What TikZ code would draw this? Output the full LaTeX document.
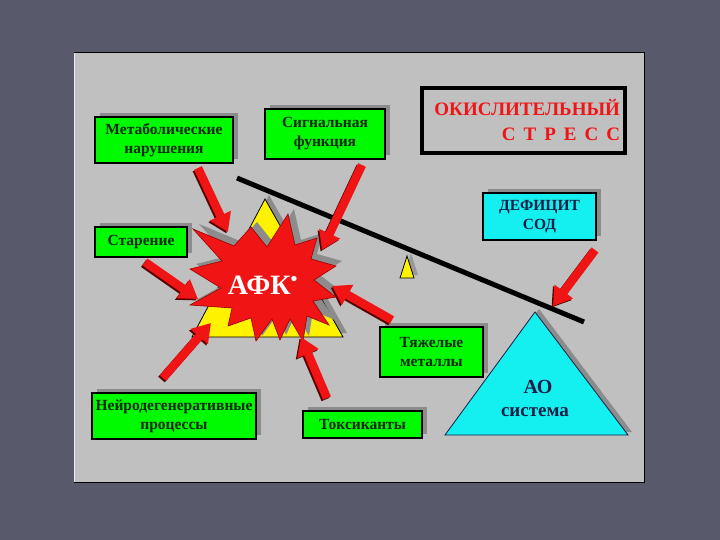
\documentclass[tikz,border=0pt]{standalone}
\usepackage{fontspec}
\setmainfont{Liberation Serif}
\usetikzlibrary{arrows.meta, shadows}
\definecolor{slide}{RGB}{88,90,108}
\definecolor{panel}{RGB}{192,192,192}
\definecolor{lime}{RGB}{0,250,0}
\definecolor{aqua}{RGB}{20,240,240}
\definecolor{fire}{RGB}{240,20,20}
\definecolor{ink}{RGB}{20,30,70}
\definecolor{boxtext}{RGB}{15,40,15}
\tikzstyle{every node}=[font=\bfseries]
\tikzstyle{gbox}=[draw=black, line width=2.2pt, fill=lime, align=center, inner sep=1pt,
  text=boxtext, font=\fontsize{15.5}{19}\selectfont\bfseries,
  drop shadow={shadow xshift=5pt, shadow yshift=4pt, fill=black!45, opacity=1}]
\tikzstyle{cbox}=[gbox, fill=aqua, text=ink]
\tikzstyle{hit}=[line width=8.5pt, draw=fire, -{Triangle[width=22pt,length=18pt]}]
\tikzstyle{hitshade}=[hit, draw=black!65!red, transform canvas={xshift=-1.5pt,yshift=-1.5pt}]

\begin{document}
\begin{tikzpicture}[x=1pt,y=-1pt]
  \useasboundingbox (0,0) rectangle (720,540);
  \fill[slide] (0,0) rectangle (720,540);
  \fill[panel] (74,53) rectangle (644,482);
  \draw[black, line width=1pt] (74,53) -- (644,53) -- (644,482) -- (74,482);
  \draw[white!70!panel, line width=1.5pt] (74.7,53) -- (74.7,482);

  % triangles
  \fill[black!45] (269,195) -- (347,333) -- (196,333) -- cycle;
  \filldraw[fill=yellow, draw=black, line width=.8pt] (265,199) -- (343,337) -- (192,337) -- cycle;
  \fill[black!40] (411,253) -- (418,275) -- (404,275) -- cycle;
  \filldraw[fill=yellow, draw=black, line width=.8pt] (407,256) -- (414,278) -- (400,278) -- cycle;
  \fill[black!45] (539,309) -- (632,432) -- (449,432) -- cycle;
  \filldraw[fill=aqua, draw=ink, line width=.8pt] (535,312) -- (628,435) -- (445,435) -- cycle;

  % lever
  \draw[line width=5pt] (237,178) -- (584,322);

  % explosion
  \fill[black!45, shift={(6,-5)}] (288,214) -- (295,245) -- (317,238) -- (311,259) -- (336,266)
    -- (314,280) -- (336,297) -- (313,301) -- (329,325) -- (307,316) -- (303,341) -- (290,319)
    -- (280,340) -- (272,319) -- (256,341) -- (251,318) -- (228,326) -- (232,308) -- (190,305)
    -- (221,288) -- (190,269) -- (222,261) -- (193,229) -- (234,246) -- (251,227) -- (267,247) -- cycle;
  \filldraw[fill=fire, draw=red!60!black, line width=.6pt] (288,214) -- (295,245) -- (317,238) -- (311,259) -- (336,266)
    -- (314,280) -- (336,297) -- (313,301) -- (329,325) -- (307,316) -- (303,341) -- (290,319)
    -- (280,340) -- (272,319) -- (256,341) -- (251,318) -- (228,326) -- (232,308) -- (190,305)
    -- (221,288) -- (190,269) -- (222,261) -- (193,229) -- (234,246) -- (251,227) -- (267,247) -- cycle;
  \node[text=white, font=\fontsize{28}{30}\selectfont\bfseries] (afk) at (263,285) {АФК\textsuperscript{•}};

  % boxes
  \node[gbox, minimum width=138pt, minimum height=46pt] (meta) at (164,140) {Метаболические\\нарушения};
  \node[gbox, minimum width=120pt, minimum height=50pt] (signal) at (325,134) {Сигнальная\\функция};
  \node[gbox, minimum width=92pt, minimum height=30pt] (aging) at (141,242) {Старение};
  \node[gbox, minimum width=103pt, minimum height=50pt] (metals) at (431.5,352) {Тяжелые\\металлы};
  \node[gbox, minimum width=119pt, minimum height=27pt] (toxic) at (362.5,424.5) {Токсиканты};
  \node[gbox, minimum width=164pt, minimum height=46pt] (neuro) at (174,416) {Нейродегенеративные\\процессы};
  \node[cbox, minimum width=113pt, minimum height=47pt] (sod) at (539.5,216.5) {ДЕФИЦИТ\\СОД};
  \node[draw=black, line width=4pt, text=fire, align=right, text width=193pt, inner xsep=5pt,
    minimum height=65pt, font=\fontsize{19}{25}\selectfont\bfseries] (stress) at (523.5,120.5)
    {ОКИСЛИТЕЛЬНЫЙ\\С\hskip8ptТ\hskip8ptР\hskip8ptЕ\hskip8ptС\hskip8ptС};
  \node[text=ink, font=\fontsize{20}{22}\selectfont\bfseries] (ao) at (538,387) {АО};
  \node[text=ink, font=\fontsize{19}{22}\selectfont\bfseries] (aosys) at (535,412) {система};

  % arrows
  \coordinate (metaTail) at (198,168);   \coordinate (metaTip) at (228,232);
  \coordinate (signalTail) at (362,165); \coordinate (signalTip) at (322,250);
  \coordinate (agingTail) at (145,262);  \coordinate (agingTip) at (198,299);
  \coordinate (metalsTail) at (392,320); \coordinate (metalsTip) at (332,286);
  \coordinate (neuroTail) at (163,378);  \coordinate (neuroTip) at (211,323);
  \coordinate (toxicTail) at (327,398);  \coordinate (toxicTip) at (301,337);
  \coordinate (sodTail) at (595,250);    \coordinate (sodTip) at (553,306);
  \foreach \a in {meta,signal,aging,metals,neuro,toxic,sod} {
    \draw[hitshade] (\a Tail) -- (\a Tip);
    \draw[hit] (\a Tail) -- (\a Tip);
  }
\end{tikzpicture}
\end{document}
